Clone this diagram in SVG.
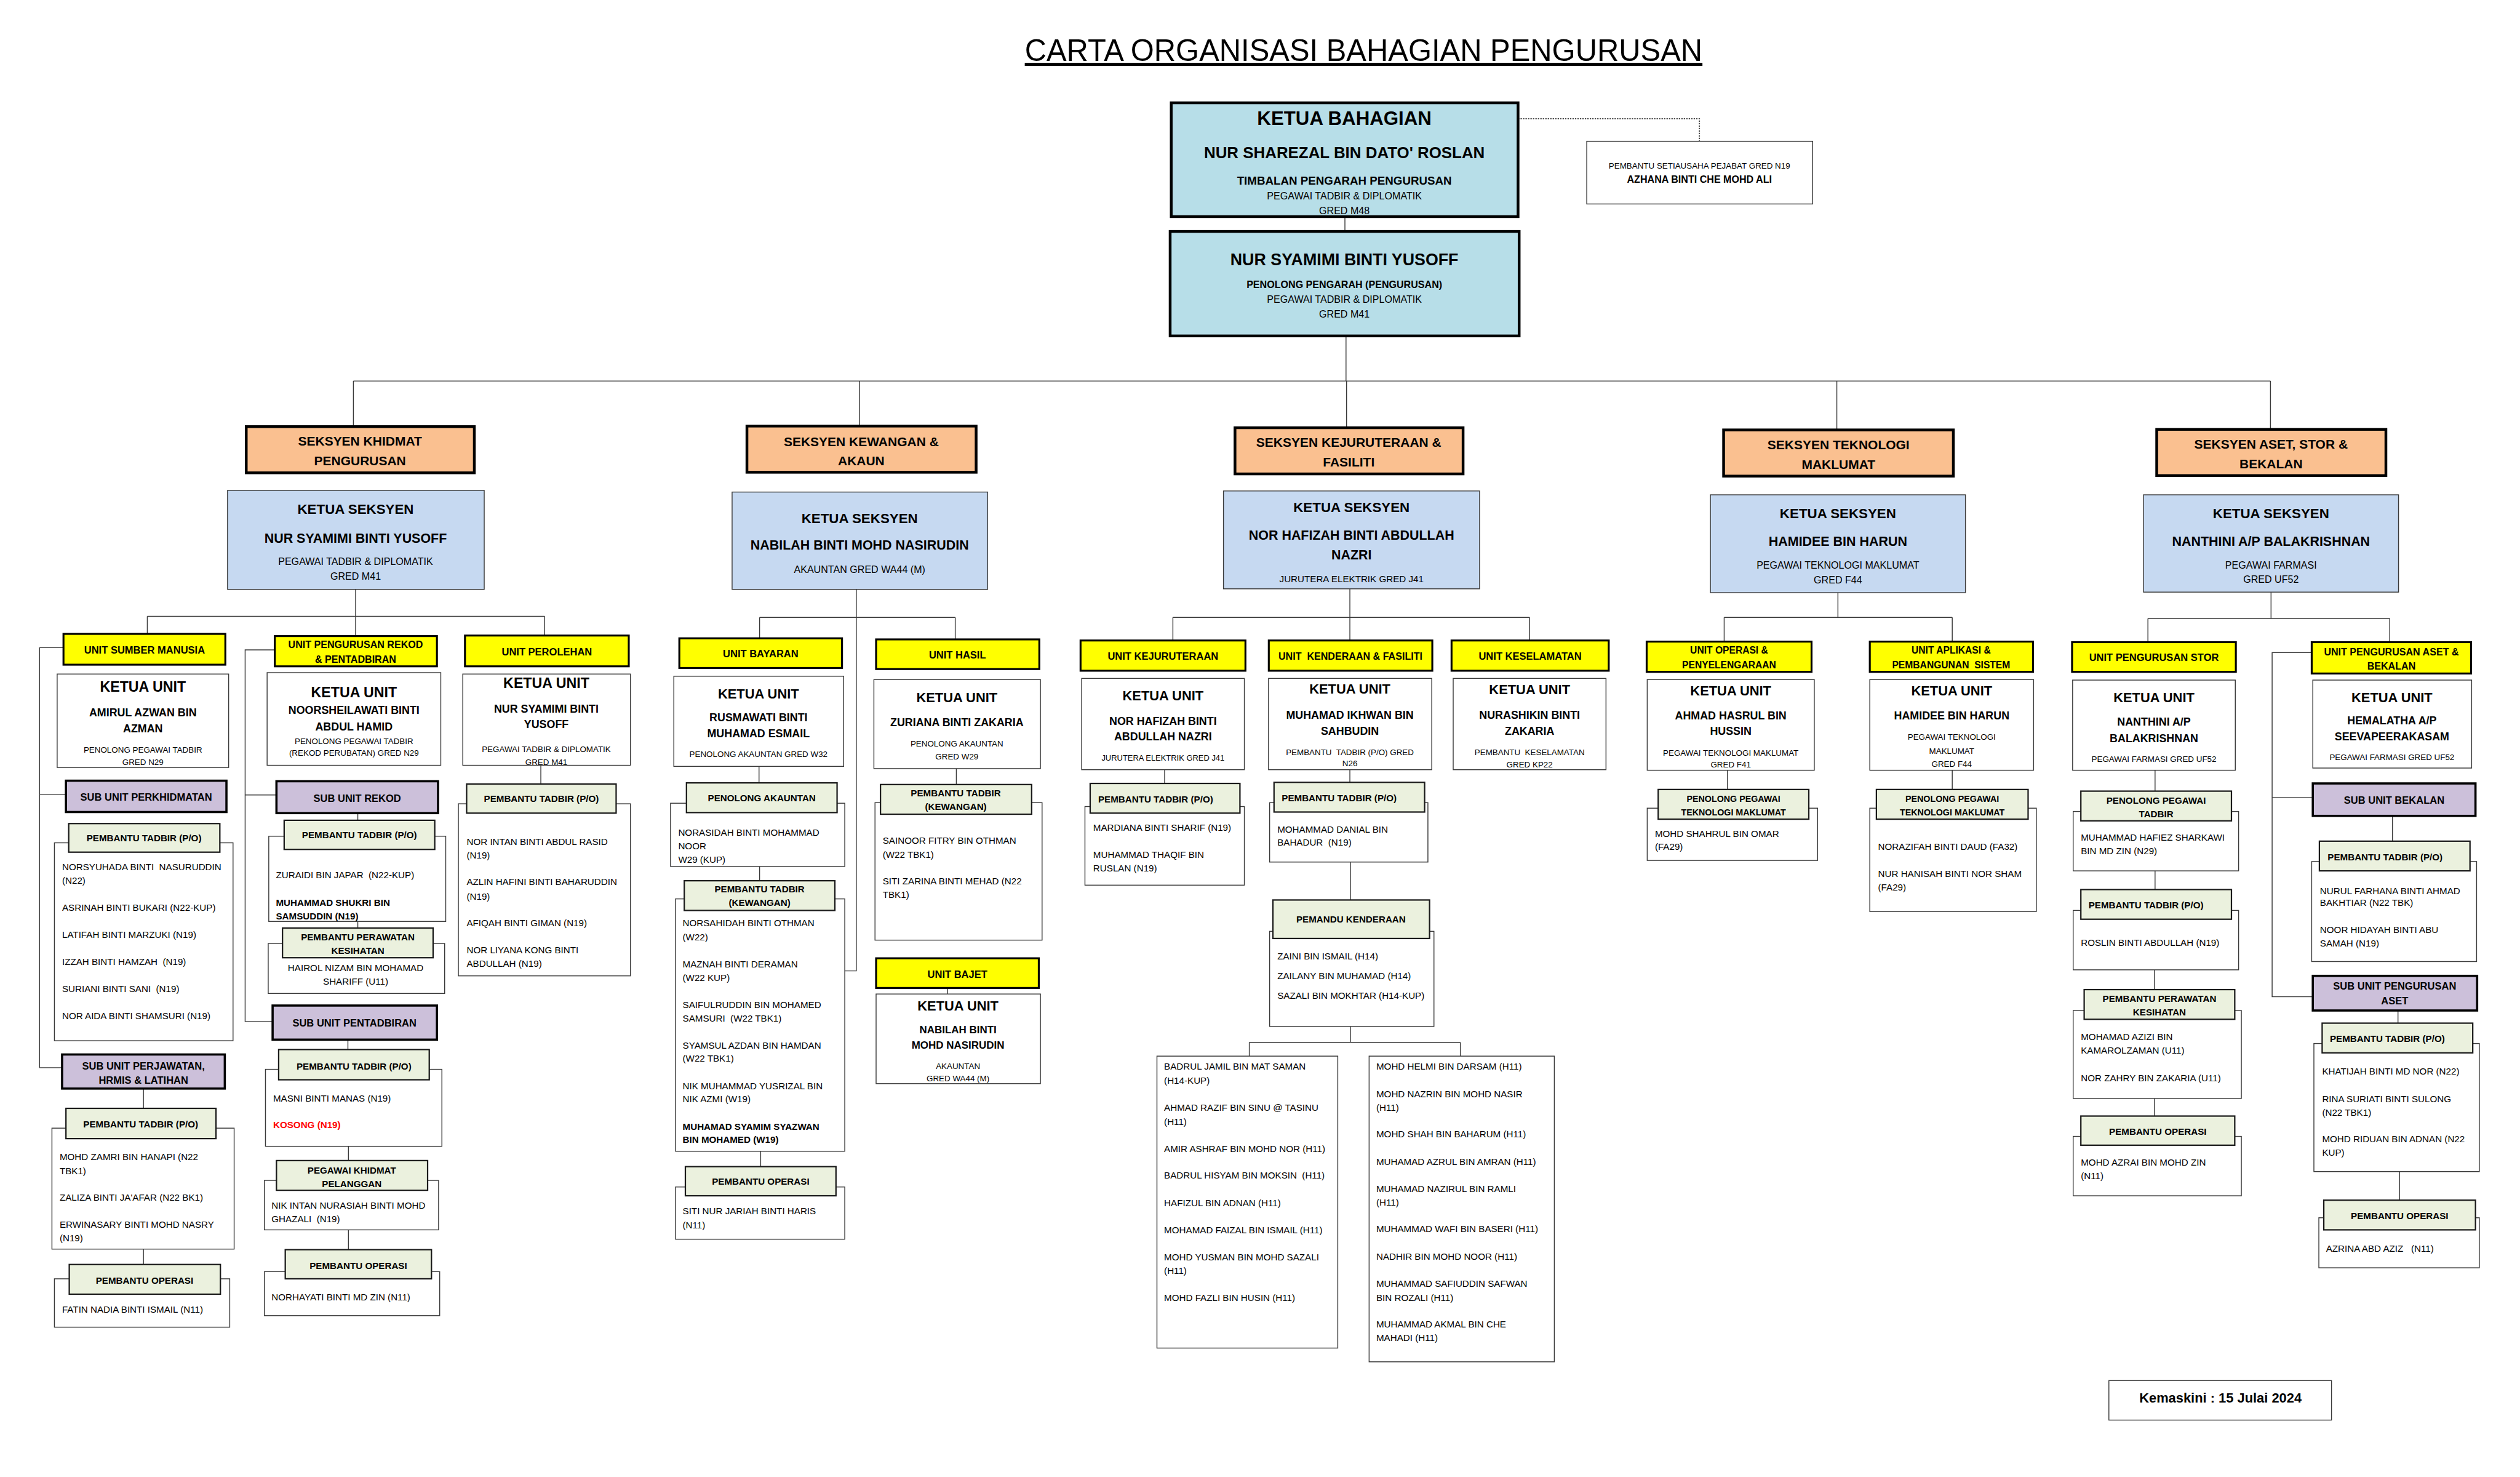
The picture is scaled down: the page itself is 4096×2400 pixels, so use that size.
<svg xmlns="http://www.w3.org/2000/svg" width="4096" height="2400" viewBox="0 0 4096 2400">
<style>
text{font-family:"Liberation Sans",Arial,sans-serif;fill:#000}
.b{font-weight:700}
.m{text-anchor:middle}
.f15{font-size:15px}
.f16{font-size:16px}
.f17{font-size:17px}
.f18{font-size:18px}
.f185{font-size:18.5px}
.f20{font-size:20px}
.f23{font-size:23.5px}
.f24{font-size:24px}
.f245{font-size:24.5px}
.f25{font-size:25px}
.top{fill:#b7dee8;stroke:#000;stroke-width:5}
.sec{fill:#fac090;stroke:#000;stroke-width:5}
.ks{fill:#c6d9f1;stroke:#3a3a3a;stroke-width:1.6}
.un{fill:#ffff00;stroke:#000;stroke-width:3.5}
.sub{fill:#ccc0da;stroke:#000;stroke-width:4}
.hd{fill:#ebf1de;stroke:#1a1a1a;stroke-width:2.5}
.w{fill:#fff;stroke:#3a3a3a;stroke-width:1.6}
.cn{fill:none;stroke:#3a3a3a;stroke-width:1.6}
.dt{fill:none;stroke:#444;stroke-width:2;stroke-dasharray:2.5 2}
.red{fill:#ff0000}
</style>
<rect width="4096" height="2400" fill="#fff"/>
<g transform="scale(0.89335)">

<text class="m" x="2481" y="111" font-size="55" textLength="1233" lengthAdjust="spacingAndGlyphs" text-decoration="underline">CARTA ORGANISASI BAHAGIAN PENGURUSAN</text>

<g id="connectors">
<path class="cn" d="M2447 394V421M2449 611V693M643 693H4131M643 693V776M1564 693V775M2450 693V778M3342 693V782M4131 693V781"/>
<path class="dt" d="M2762 216H3092V257"/>
<!-- section 1 -->
<path class="cn" d="M647 1072V1157M268 1121H991M268 1121V1153M991 1121V1156"/>
<path class="cn" d="M115 1178H72V1942H113M72 1445H120M500 1182H446V1858H496M446 1446H503"/>
<path class="cn" d="M651 1479V1492M651 1676V1688M633 1891V1909M634 2085V2111M634 2237V2273M261 1980V2016M261 2272V2300M984 1392V1426"/>
<!-- section 2 -->
<path class="cn" d="M1558 1072V1766H1538M1382 1123H1738M1382 1123V1162M1738 1123V1163M1381 1394V1424M1382 1576V1602M1384 2094V2122M1740 1398V1427M1724 1797V1808"/>
<!-- section 3 -->
<path class="cn" d="M2456 1071V1165M2134 1123H2783M2134 1123V1165M2783 1123V1165M2119 1400V1425M2456 1400V1423M2457 1568V1637M2457 1867V1896M2273 1896H2657M2273 1896V1921M2657 1896V1921"/>
<!-- section 4 -->
<path class="cn" d="M3344 1078V1123M3137 1123H3552M3137 1123V1167M3552 1123V1167M3143 1401V1436M3552 1401V1436"/>
<!-- section 5 -->
<path class="cn" d="M4132 1077V1125M3908 1125H4348M3908 1125V1168M4348 1125V1168M4206 1187H4134V1813H4209M4134 1451H4208M4353 1484V1530M4363 1838V1861M4366 2131V2183M3921 1401V1439M3921 1584V1618M3920 1764V1800M3920 1998V2030"/>
</g>

<!-- top -->
<g id="ketua-bahagian">
<rect class="top" x="2131" y="187" width="631" height="207"/>
<text class="m b" x="2446" y="227" font-size="35">KETUA BAHAGIAN</text>
<text class="m b" x="2446" y="288" font-size="29">NUR SHAREZAL BIN DATO' ROSLAN</text>
<text class="m b" x="2446" y="336" font-size="21">TIMBALAN PENGARAH PENGURUSAN</text>
<text class="m f18" x="2446" y="363">PEGAWAI TADBIR &amp; DIPLOMATIK</text>
<text class="m f18" x="2446" y="390">GRED M48</text>
</g>
<g id="penolong-pengarah">
<rect class="top" x="2129" y="421" width="635" height="190"/>
<text class="m b" x="2446" y="483" font-size="30">NUR SYAMIMI BINTI YUSOFF</text>
<text class="m b f18" x="2446" y="524">PENOLONG PENGARAH (PENGURUSAN)</text>
<text class="m f18" x="2446" y="551">PEGAWAI TADBIR &amp; DIPLOMATIK</text>
<text class="m f18" x="2446" y="578">GRED M41</text>
</g>
<g id="setiausaha">
<rect class="w" x="2887" y="257" width="411" height="114"/>
<text class="m f15" x="3092" y="307">PEMBANTU SETIAUSAHA PEJABAT GRED N19</text>
<text class="m b f18" x="3092" y="333">AZHANA BINTI CHE MOHD ALI</text>
</g>

<!-- sections -->
<g id="seksyen-khidmat" class="m b f23">
<rect class="sec" x="448" y="776" width="415" height="84"/>
<text x="655" y="810">SEKSYEN KHIDMAT</text><text x="655" y="846">PENGURUSAN</text>
</g>
<g id="seksyen-kewangan" class="m b f23">
<rect class="sec" x="1359" y="775" width="417" height="84"/>
<text x="1567" y="811">SEKSYEN KEWANGAN &amp;</text><text x="1567" y="846">AKAUN</text>
</g>
<g id="seksyen-kejuruteraan" class="m b f23">
<rect class="sec" x="2247" y="778" width="415" height="84"/>
<text x="2454" y="813">SEKSYEN KEJURUTERAAN &amp;</text><text x="2454" y="849">FASILITI</text>
</g>
<g id="seksyen-teknologi" class="m b f23">
<rect class="sec" x="3136" y="782" width="418" height="84"/>
<text x="3345" y="817">SEKSYEN TEKNOLOGI</text><text x="3345" y="853">MAKLUMAT</text>
</g>
<g id="seksyen-aset" class="m b f23">
<rect class="sec" x="3924" y="781" width="417" height="84"/>
<text x="4132" y="816">SEKSYEN ASET, STOR &amp;</text><text x="4132" y="852">BEKALAN</text>
</g>

<!-- ketua seksyen -->
<g id="ks1" class="m">
<rect class="ks" x="414" y="892" width="467" height="180"/>
<text class="b f25" x="647" y="935">KETUA SEKSYEN</text>
<text class="b f24" x="647" y="987">NUR SYAMIMI BINTI YUSOFF</text>
<text class="f18" x="647" y="1028">PEGAWAI TADBIR &amp; DIPLOMATIK</text>
<text class="f18" x="647" y="1055">GRED M41</text>
</g>
<g id="ks2" class="m">
<rect class="ks" x="1332" y="895" width="465" height="177"/>
<text class="b f25" x="1564" y="951">KETUA SEKSYEN</text>
<text class="b f24" x="1564" y="1000">NABILAH BINTI MOHD NASIRUDIN</text>
<text class="f18" x="1564" y="1042">AKAUNTAN GRED WA44 (M)</text>
</g>
<g id="ks3" class="m">
<rect class="ks" x="2226" y="893" width="466" height="178"/>
<text class="b f25" x="2459" y="931">KETUA SEKSYEN</text>
<text class="b f24" x="2459" y="982">NOR HAFIZAH BINTI ABDULLAH</text>
<text class="b f24" x="2459" y="1018">NAZRI</text>
<text class="f17" x="2459" y="1059">JURUTERA ELEKTRIK GRED J41</text>
</g>
<g id="ks4" class="m">
<rect class="ks" x="3112" y="900" width="464" height="178"/>
<text class="b f25" x="3344" y="942">KETUA SEKSYEN</text>
<text class="b f24" x="3344" y="993">HAMIDEE BIN HARUN</text>
<text class="f18" x="3344" y="1034">PEGAWAI TEKNOLOGI MAKLUMAT</text>
<text class="f18" x="3344" y="1061">GRED F44</text>
</g>
<g id="ks5" class="m">
<rect class="ks" x="3900" y="900" width="464" height="177"/>
<text class="b f25" x="4132" y="942">KETUA SEKSYEN</text>
<text class="b f24" x="4132" y="993">NANTHINI A/P BALAKRISHNAN</text>
<text class="f18" x="4132" y="1034">PEGAWAI FARMASI</text>
<text class="f18" x="4132" y="1060">GRED UF52</text>
</g>

<!-- ===== Section 1 ===== -->
<g id="unit-sumber-manusia" class="m b f185">
<rect class="un" x="115.5" y="1153" width="294.5" height="56"/>
<text x="263" y="1189">UNIT SUMBER MANUSIA</text>
</g>
<g id="unit-rekod" class="m b f18">
<rect class="un" x="500" y="1157" width="295" height="55"/>
<text x="647" y="1179">UNIT PENGURUSAN REKOD</text><text x="647" y="1206">&amp; PENTADBIRAN</text>
</g>
<g id="unit-perolehan" class="m b f185">
<rect class="un" x="846" y="1156" width="298" height="56"/>
<text x="995" y="1192">UNIT PEROLEHAN</text>
</g>
<g id="ku-sumber" class="m">
<rect class="w" x="104" y="1226" width="312" height="170"/>
<text class="b" font-size="26" x="260" y="1258">KETUA UNIT</text>
<text class="b f20" x="260" y="1303">AMIRUL AZWAN BIN</text>
<text class="b f20" x="260" y="1332">AZMAN</text>
<text class="f15" x="260" y="1369">PENOLONG PEGAWAI TADBIR</text>
<text class="f15" x="260" y="1391">GRED N29</text>
</g>
<g id="ku-rekod" class="m">
<rect class="w" x="486" y="1223.5" width="316" height="168.5"/>
<text class="b" font-size="26" x="644" y="1268">KETUA UNIT</text>
<text class="b f20" x="644" y="1299">NOORSHEILAWATI BINTI</text>
<text class="b f20" x="644" y="1329">ABDUL HAMID</text>
<text class="f15" x="644" y="1353">PENOLONG PEGAWAI TADBIR</text>
<text class="f15" x="644" y="1375">(REKOD PERUBATAN) GRED N29</text>
</g>
<g id="ku-perolehan" class="m">
<rect class="w" x="842" y="1226" width="305" height="166"/>
<text class="b" font-size="26" x="994" y="1251">KETUA UNIT</text>
<text class="b f20" x="994" y="1296">NUR SYAMIMI BINTI</text>
<text class="b f20" x="994" y="1324">YUSOFF</text>
<text class="f15" x="994" y="1368">PEGAWAI TADBIR &amp; DIPLOMATIK</text>
<text class="f15" x="994" y="1391">GRED M41</text>
</g>
<g id="sub-perkhidmatan" class="m b f185">
<rect class="sub" x="120" y="1420" width="292" height="57"/>
<text x="266" y="1456">SUB UNIT PERKHIDMATAN</text>
</g>
<g id="sub-rekod" class="m b f185">
<rect class="sub" x="503" y="1421" width="294" height="58"/>
<text x="650" y="1458">SUB UNIT REKOD</text>
</g>
<g id="s1-pt-perkhidmatan" class="f17">
<rect class="w" x="99" y="1533" width="325" height="360"/>
<rect class="hd" x="125" y="1498" width="275" height="52"/>
<text class="m b" x="262" y="1530">PEMBANTU TADBIR (P/O)</text>
<text x="113" y="1583" xml:space="preserve">NORSYUHADA BINTI  NASURUDDIN</text>
<text x="113" y="1607">(N22)</text>
<text x="113" y="1657">ASRINAH BINTI BUKARI (N22-KUP)</text>
<text x="113" y="1706">LATIFAH BINTI MARZUKI (N19)</text>
<text x="113" y="1755" xml:space="preserve">IZZAH BINTI HAMZAH  (N19)</text>
<text x="113" y="1804" xml:space="preserve">SURIANI BINTI SANI  (N19)</text>
<text x="113" y="1854">NOR AIDA BINTI SHAMSURI (N19)</text>
</g>
<g id="sub-perjawatan" class="m b f185">
<rect class="sub" x="113" y="1918" width="296" height="62"/>
<text x="261" y="1945">SUB UNIT PERJAWATAN,</text><text x="261" y="1971">HRMIS &amp; LATIHAN</text>
</g>
<g id="s1-pt-perjawatan" class="f17">
<rect class="w" x="94.5" y="2052" width="331.5" height="220"/>
<rect class="hd" x="120" y="2016" width="273" height="55"/>
<text class="m b" x="256" y="2051">PEMBANTU TADBIR (P/O)</text>
<text x="108.5" y="2110">MOHD ZAMRI BIN HANAPI (N22</text>
<text x="108.5" y="2136">TBK1)</text>
<text x="108.5" y="2184">ZALIZA BINTI JA'AFAR (N22 BK1)</text>
<text x="108.5" y="2233">ERWINASARY BINTI MOHD NASRY</text>
<text x="108.5" y="2258">(N19)</text>
</g>
<g id="s1-po-perjawatan" class="f17">
<rect class="w" x="99" y="2326" width="319" height="88"/>
<rect class="hd" x="126" y="2300" width="275" height="54"/>
<text class="m b" x="263" y="2335">PEMBANTU OPERASI</text>
<text x="113" y="2388">FATIN NADIA BINTI ISMAIL (N11)</text>
</g>
<g id="s1-pt-rekod" class="f17">
<rect class="w" x="489" y="1521" width="322" height="155"/>
<rect class="hd" x="517" y="1492" width="274" height="53"/>
<text class="m b" x="654" y="1525">PEMBANTU TADBIR (P/O)</text>
<text x="502" y="1597" xml:space="preserve">ZURAIDI BIN JAPAR  (N22-KUP)</text>
<text class="b" x="502" y="1648">MUHAMMAD SHUKRI BIN</text>
<text class="b" x="502" y="1672">SAMSUDDIN (N19)</text>
</g>
<g id="s1-ppk-rekod" class="f17">
<rect class="w" x="488" y="1716" width="321" height="91"/>
<rect class="hd" x="514" y="1688" width="274" height="54"/>
<text class="m b" x="651" y="1710">PEMBANTU PERAWATAN</text>
<text class="m b" x="651" y="1735">KESIHATAN</text>
<text class="m" x="647" y="1766">HAIROL NIZAM BIN MOHAMAD</text>
<text class="m" x="647" y="1791">SHARIFF (U11)</text>
</g>
<g id="sub-pentadbiran" class="m b f185">
<rect class="sub" x="496" y="1829" width="299" height="62"/>
<text x="645" y="1867">SUB UNIT PENTADBIRAN</text>
</g>
<g id="s1-pt-pentadbiran" class="f17">
<rect class="w" x="483" y="1945" width="321" height="140"/>
<rect class="hd" x="507" y="1909" width="274" height="55"/>
<text class="m b" x="644" y="1945">PEMBANTU TADBIR (P/O)</text>
<text x="497" y="2004">MASNI BINTI MANAS (N19)</text>
<text class="b red" x="497" y="2052">KOSONG (N19)</text>
</g>
<g id="s1-pkp-pentadbiran" class="f17">
<rect class="w" x="481" y="2147" width="317" height="90"/>
<rect class="hd" x="503" y="2111" width="275" height="54"/>
<text class="m b" x="640" y="2135">PEGAWAI KHIDMAT</text>
<text class="m b" x="640" y="2159">PELANGGAN</text>
<text x="494" y="2198">NIK INTAN NURASIAH BINTI MOHD</text>
<text x="494" y="2223" xml:space="preserve">GHAZALI  (N19)</text>
</g>
<g id="s1-po-pentadbiran" class="f17">
<rect class="w" x="481" y="2313" width="319" height="80"/>
<rect class="hd" x="519" y="2273" width="266" height="53"/>
<text class="m b" x="652" y="2308">PEMBANTU OPERASI</text>
<text x="494" y="2365">NORHAYATI BINTI MD ZIN (N11)</text>
</g>
<g id="s1-pt-perolehan" class="f17">
<rect class="w" x="834" y="1462" width="313" height="313"/>
<rect class="hd" x="849" y="1426" width="272" height="53"/>
<text class="m b" x="985" y="1459">PEMBANTU TADBIR (P/O)</text>
<text x="849" y="1537">NOR INTAN BINTI ABDUL RASID</text>
<text x="849" y="1561">(N19)</text>
<text x="849" y="1610">AZLIN HAFINI BINTI BAHARUDDIN</text>
<text x="849" y="1636">(N19)</text>
<text x="849" y="1685">AFIQAH BINTI GIMAN (N19)</text>
<text x="849" y="1734">NOR LIYANA KONG BINTI</text>
<text x="849" y="1759">ABDULLAH (N19)</text>
</g>

<!-- ===== Section 2 ===== -->
<g id="unit-bayaran" class="m b f185">
<rect class="un" x="1236" y="1161" width="296" height="54"/>
<text x="1384" y="1196">UNIT BAYARAN</text>
</g>
<g id="unit-hasil" class="m b f185">
<rect class="un" x="1594" y="1163" width="297" height="54"/>
<text x="1742" y="1198">UNIT HASIL</text>
</g>
<g id="ku-bayaran" class="m">
<rect class="w" x="1226" y="1230" width="309" height="164"/>
<text class="b f245" x="1380" y="1271">KETUA UNIT</text>
<text class="b f20" x="1380" y="1312">RUSMAWATI BINTI</text>
<text class="b f20" x="1380" y="1341">MUHAMAD ESMAIL</text>
<text class="f15" x="1380" y="1377">PENOLONG AKAUNTAN GRED W32</text>
</g>
<g id="ku-hasil" class="m">
<rect class="w" x="1590" y="1236" width="303" height="162"/>
<text class="b f245" x="1741" y="1277">KETUA UNIT</text>
<text class="b f20" x="1741" y="1321">ZURIANA BINTI ZAKARIA</text>
<text class="f15" x="1741" y="1358">PENOLONG AKAUNTAN</text>
<text class="f15" x="1741" y="1381">GRED W29</text>
</g>
<g id="s2-pa-bayaran" class="f17">
<rect class="w" x="1220" y="1461" width="317" height="115"/>
<rect class="hd" x="1249" y="1424" width="274" height="54"/>
<text class="m b" x="1386" y="1457">PENOLONG AKAUNTAN</text>
<text x="1234" y="1520">NORASIDAH BINTI MOHAMMAD</text>
<text x="1234" y="1545">NOOR</text>
<text x="1234" y="1569">W29 (KUP)</text>
</g>
<g id="s2-ptk-bayaran" class="f17">
<rect class="w" x="1229" y="1635" width="308" height="459"/>
<rect class="hd" x="1245" y="1602" width="274" height="54"/>
<text class="m b" x="1382" y="1623">PEMBANTU TADBIR</text>
<text class="m b" x="1382" y="1648">(KEWANGAN)</text>
<text x="1242" y="1685">NORSAHIDAH BINTI OTHMAN</text>
<text x="1242" y="1710">(W22)</text>
<text x="1242" y="1760">MAZNAH BINTI DERAMAN</text>
<text x="1242" y="1784">(W22 KUP)</text>
<text x="1242" y="1833">SAIFULRUDDIN BIN MOHAMED</text>
<text x="1242" y="1858" xml:space="preserve">SAMSURI  (W22 TBK1)</text>
<text x="1242" y="1907">SYAMSUL AZDAN BIN HAMDAN</text>
<text x="1242" y="1931">(W22 TBK1)</text>
<text x="1242" y="1981">NIK MUHAMMAD YUSRIZAL BIN</text>
<text x="1242" y="2005">NIK AZMI (W19)</text>
<text class="b" x="1242" y="2055">MUHAMAD SYAMIM SYAZWAN</text>
<text class="b" x="1242" y="2079">BIN MOHAMED (W19)</text>
</g>
<g id="s2-po-bayaran" class="f17">
<rect class="w" x="1229" y="2159" width="308" height="95"/>
<rect class="hd" x="1247" y="2122" width="274" height="53"/>
<text class="m b" x="1384" y="2155">PEMBANTU OPERASI</text>
<text x="1242" y="2208">SITI NUR JARIAH BINTI HARIS</text>
<text x="1242" y="2234">(N11)</text>
</g>
<g id="s2-ptk-hasil" class="f17">
<rect class="w" x="1592" y="1460" width="304" height="250"/>
<rect class="hd" x="1602" y="1427" width="275" height="54"/>
<text class="m b" x="1739" y="1448">PEMBANTU TADBIR</text>
<text class="m b" x="1739" y="1473">(KEWANGAN)</text>
<text x="1606" y="1535">SAINOOR FITRY BIN OTHMAN</text>
<text x="1606" y="1560">(W22 TBK1)</text>
<text x="1606" y="1608">SITI ZARINA BINTI MEHAD (N22</text>
<text x="1606" y="1633">TBK1)</text>
</g>
<g id="unit-bajet" class="m b f185">
<rect class="un" x="1594" y="1743" width="296" height="54"/>
<text x="1742" y="1779">UNIT BAJET</text>
</g>
<g id="ku-bajet" class="m">
<rect class="w" x="1594" y="1808" width="299" height="163"/>
<text class="b f245" x="1743" y="1838">KETUA UNIT</text>
<text class="b" font-size="19" x="1743" y="1880">NABILAH BINTI</text>
<text class="b" font-size="19" x="1743" y="1907">MOHD NASIRUDIN</text>
<text class="f15" x="1743" y="1944">AKAUNTAN</text>
<text class="f15" x="1743" y="1967">GRED WA44 (M)</text>
</g>

<!-- ===== Section 3 ===== -->
<g id="unit-kejuruteraan" class="m b f185">
<rect class="un" x="1966" y="1165" width="300" height="55"/>
<text x="2116" y="1200">UNIT KEJURUTERAAN</text>
</g>
<g id="unit-kenderaan" class="m b f18">
<rect class="un" x="2308.5" y="1165" width="297.5" height="55"/>
<text x="2457" y="1200" xml:space="preserve">UNIT  KENDERAAN &amp; FASILITI</text>
</g>
<g id="unit-keselamatan" class="m b f185">
<rect class="un" x="2641" y="1165" width="286" height="55"/>
<text x="2784" y="1200">UNIT KESELAMATAN</text>
</g>
<g id="ku-kejuruteraan" class="m">
<rect class="w" x="1968" y="1234" width="296" height="166"/>
<text class="b f245" x="2116" y="1274">KETUA UNIT</text>
<text class="b f20" x="2116" y="1319">NOR HAFIZAH BINTI</text>
<text class="b f20" x="2116" y="1347">ABDULLAH NAZRI</text>
<text x="2116" y="1384" font-size="14.5">JURUTERA ELEKTRIK GRED J41</text>
</g>
<g id="ku-kenderaan" class="m">
<rect class="w" x="2308" y="1234" width="297" height="166"/>
<text class="b f245" x="2456" y="1262">KETUA UNIT</text>
<text class="b f20" x="2456" y="1307">MUHAMAD IKHWAN BIN</text>
<text class="b f20" x="2456" y="1337">SAHBUDIN</text>
<text class="f15" x="2456" y="1373" xml:space="preserve">PEMBANTU  TADBIR (P/O) GRED</text>
<text class="f15" x="2456" y="1394">N26</text>
</g>
<g id="ku-keselamatan" class="m">
<rect class="w" x="2644" y="1234" width="278" height="166"/>
<text class="b f245" x="2783" y="1263">KETUA UNIT</text>
<text class="b f20" x="2783" y="1307">NURASHIKIN BINTI</text>
<text class="b f20" x="2783" y="1336">ZAKARIA</text>
<text class="f15" x="2783" y="1374" xml:space="preserve">PEMBANTU  KESELAMATAN</text>
<text class="f15" x="2783" y="1396">GRED KP22</text>
</g>
<g id="s3-pt-kejuruteraan" class="f17">
<rect class="w" x="1974" y="1467" width="290" height="143"/>
<rect class="hd" x="1983.5" y="1425" width="272.5" height="54"/>
<text class="b" x="1998" y="1460">PEMBANTU TADBIR (P/O)</text>
<text x="1989" y="1511">MARDIANA BINTI SHARIF (N19)</text>
<text x="1989" y="1560">MUHAMMAD THAQIF BIN</text>
<text x="1989" y="1585">RUSLAN (N19)</text>
</g>
<g id="s3-pt-kenderaan" class="f17">
<rect class="w" x="2310" y="1460" width="288" height="108"/>
<rect class="hd" x="2318" y="1423" width="274" height="54"/>
<text class="b" x="2332" y="1457">PEMBANTU TADBIR (P/O)</text>
<text x="2324" y="1514">MOHAMMAD DANIAL BIN</text>
<text x="2324" y="1538" xml:space="preserve">BAHADUR  (N19)</text>
</g>
<g id="s3-pemandu" class="f17">
<rect class="w" x="2310" y="1694" width="299" height="173"/>
<rect class="hd" x="2316" y="1637" width="285" height="70" stroke-width="3.5"/>
<text class="m b" x="2458" y="1678">PEMANDU KENDERAAN</text>
<text x="2324" y="1745">ZAINI BIN ISMAIL (H14)</text>
<text x="2324" y="1781">ZAILANY BIN MUHAMAD (H14)</text>
<text x="2324" y="1817">SAZALI BIN MOKHTAR (H14-KUP)</text>
</g>
<g id="s3-pemandu-list1" class="f17">
<rect class="w" x="2105" y="1921" width="329" height="531"/>
<text x="2118" y="1946">BADRUL JAMIL BIN MAT SAMAN</text>
<text x="2118" y="1971">(H14-KUP)</text>
<text x="2118" y="2021">AHMAD RAZIF BIN SINU @ TASINU</text>
<text x="2118" y="2046">(H11)</text>
<text x="2118" y="2095">AMIR ASHRAF BIN MOHD NOR (H11)</text>
<text x="2118" y="2144" xml:space="preserve">BADRUL HISYAM BIN MOKSIN  (H11)</text>
<text x="2118" y="2194">HAFIZUL BIN ADNAN (H11)</text>
<text x="2118" y="2243">MOHAMAD FAIZAL BIN ISMAIL (H11)</text>
<text x="2118" y="2292">MOHD YUSMAN BIN MOHD SAZALI</text>
<text x="2118" y="2317">(H11)</text>
<text x="2118" y="2366">MOHD FAZLI BIN HUSIN (H11)</text>
</g>
<g id="s3-pemandu-list2" class="f17">
<rect class="w" x="2491" y="1921" width="337" height="556"/>
<text x="2504" y="1946">MOHD HELMI BIN DARSAM (H11)</text>
<text x="2504" y="1996">MOHD NAZRIN BIN MOHD NASIR</text>
<text x="2504" y="2021">(H11)</text>
<text x="2504" y="2069">MOHD SHAH BIN BAHARUM (H11)</text>
<text x="2504" y="2119">MUHAMAD AZRUL BIN AMRAN (H11)</text>
<text x="2504" y="2168">MUHAMAD NAZIRUL BIN RAMLI</text>
<text x="2504" y="2193">(H11)</text>
<text x="2504" y="2241">MUHAMMAD WAFI BIN BASERI (H11)</text>
<text x="2504" y="2291">NADHIR BIN MOHD NOOR (H11)</text>
<text x="2504" y="2341">MUHAMMAD SAFIUDDIN SAFWAN</text>
<text x="2504" y="2366">BIN ROZALI (H11)</text>
<text x="2504" y="2414">MUHAMMAD AKMAL BIN CHE</text>
<text x="2504" y="2439">MAHADI (H11)</text>
</g>

<!-- ===== Section 4 ===== -->
<g id="unit-operasi" class="m b" font-size="17.5">
<rect class="un" x="2996" y="1167" width="300" height="55"/>
<text x="3146" y="1189">UNIT OPERASI &amp;</text><text x="3146" y="1216">PENYELENGARAAN</text>
</g>
<g id="unit-aplikasi" class="m b" font-size="17.5">
<rect class="un" x="3402" y="1167" width="297" height="55"/>
<text x="3550" y="1189">UNIT APLIKASI &amp;</text><text x="3550" y="1216" xml:space="preserve">PEMBANGUNAN  SISTEM</text>
</g>
<g id="ku-operasi" class="m">
<rect class="w" x="2997" y="1236" width="304" height="165"/>
<text class="b f245" x="3149" y="1265">KETUA UNIT</text>
<text class="b f20" x="3149" y="1308">AHMAD HASRUL BIN</text>
<text class="b f20" x="3149" y="1337">HUSSIN</text>
<text class="f15" x="3149" y="1375">PEGAWAI TEKNOLOGI MAKLUMAT</text>
<text class="f15" x="3149" y="1396">GRED F41</text>
</g>
<g id="ku-aplikasi" class="m">
<rect class="w" x="3402" y="1236" width="298" height="165"/>
<text class="b f245" x="3551" y="1265">KETUA UNIT</text>
<text class="b f20" x="3551" y="1309">HAMIDEE BIN HARUN</text>
<text class="f15" x="3551" y="1346">PEGAWAI TEKNOLOGI</text>
<text class="f15" x="3551" y="1371">MAKLUMAT</text>
<text class="f15" x="3551" y="1395">GRED F44</text>
</g>
<g id="s4-pptm-operasi" class="f17">
<rect class="w" x="2997" y="1470" width="310" height="95"/>
<rect class="hd" x="3017" y="1436" width="274" height="54"/>
<text class="m b f16" x="3154" y="1459">PENOLONG PEGAWAI</text>
<text class="m b f16" x="3154" y="1483">TEKNOLOGI MAKLUMAT</text>
<text x="3011" y="1522">MOHD SHAHRUL BIN OMAR</text>
<text x="3011" y="1546">(FA29)</text>
</g>
<g id="s4-pptm-aplikasi" class="f17">
<rect class="w" x="3402" y="1470" width="303" height="188"/>
<rect class="hd" x="3414" y="1436" width="276" height="54"/>
<text class="m b f16" x="3552" y="1459">PENOLONG PEGAWAI</text>
<text class="m b f16" x="3552" y="1483">TEKNOLOGI MAKLUMAT</text>
<text x="3417" y="1546">NORAZIFAH BINTI DAUD (FA32)</text>
<text x="3417" y="1595">NUR HANISAH BINTI NOR SHAM</text>
<text x="3417" y="1620">(FA29)</text>
</g>

<!-- ===== Section 5 ===== -->
<g id="unit-stor" class="m b f185">
<rect class="un" x="3770" y="1168" width="298" height="54"/>
<text x="3919" y="1202">UNIT PENGURUSAN STOR</text>
</g>
<g id="unit-aset" class="m b f18">
<rect class="un" x="4206" y="1168" width="290" height="57"/>
<text x="4351" y="1192">UNIT PENGURUSAN ASET &amp;</text><text x="4351" y="1218">BEKALAN</text>
</g>
<g id="ku-stor" class="m">
<rect class="w" x="3771" y="1237" width="296" height="164"/>
<text class="b f245" x="3919" y="1277">KETUA UNIT</text>
<text class="b f20" x="3919" y="1320">NANTHINI A/P</text>
<text class="b f20" x="3919" y="1350">BALAKRISHNAN</text>
<text class="f15" x="3919" y="1386">PEGAWAI FARMASI GRED UF52</text>
</g>
<g id="ku-aset" class="m">
<rect class="w" x="4208" y="1237" width="289" height="160"/>
<text class="b f245" x="4352" y="1277">KETUA UNIT</text>
<text class="b f20" x="4352" y="1318">HEMALATHA A/P</text>
<text class="b f20" x="4352" y="1347">SEEVAPEERAKASAM</text>
<text class="f15" x="4352" y="1382">PEGAWAI FARMASI GRED UF52</text>
</g>
<g id="sub-bekalan" class="m b f185">
<rect class="sub" x="4208" y="1425" width="296" height="59"/>
<text x="4356" y="1462">SUB UNIT BEKALAN</text>
</g>
<g id="s5-pt-bekalan" class="f17">
<rect class="w" x="4206" y="1567" width="300" height="182"/>
<rect class="hd" x="4220" y="1530" width="274" height="54"/>
<text class="b" x="4235" y="1565">PEMBANTU TADBIR (P/O)</text>
<text x="4221" y="1626">NURUL FARHANA BINTI AHMAD</text>
<text x="4221" y="1648">BAKHTIAR (N22 TBK)</text>
<text x="4221" y="1697">NOOR HIDAYAH BINTI ABU</text>
<text x="4221" y="1722">SAMAH (N19)</text>
</g>
<g id="sub-pengurusan-aset" class="m b f185">
<rect class="sub" x="4208" y="1775" width="299" height="63"/>
<text x="4357" y="1800">SUB UNIT PENGURUSAN</text><text x="4357" y="1827">ASET</text>
</g>
<g id="s5-pt-aset" class="f17">
<rect class="w" x="4210" y="1898" width="301" height="233"/>
<rect class="hd" x="4225" y="1861" width="274" height="54"/>
<text class="b" x="4239" y="1895">PEMBANTU TADBIR (P/O)</text>
<text x="4225" y="1954">KHATIJAH BINTI MD NOR (N22)</text>
<text x="4225" y="2005">RINA SURIATI BINTI SULONG</text>
<text x="4225" y="2029">(N22 TBK1)</text>
<text x="4225" y="2078">MOHD RIDUAN BIN ADNAN (N22</text>
<text x="4225" y="2102">KUP)</text>
</g>
<g id="s5-po-aset" class="f17">
<rect class="w" x="4219" y="2215" width="292" height="91"/>
<rect class="hd" x="4228" y="2183" width="276" height="54"/>
<text class="m b" x="4366" y="2218">PEMBANTU OPERASI</text>
<text x="4232" y="2277" xml:space="preserve">AZRINA ABD AZIZ   (N11)</text>
</g>
<g id="s5-ppt-stor" class="f17">
<rect class="w" x="3772" y="1476" width="301" height="108"/>
<rect class="hd" x="3786" y="1439" width="274" height="54"/>
<text class="m b" x="3923" y="1462">PENOLONG PEGAWAI</text>
<text class="m b" x="3923" y="1486">TADBIR</text>
<text x="3786" y="1529">MUHAMMAD HAFIEZ SHARKAWI</text>
<text x="3786" y="1554">BIN MD ZIN (N29)</text>
</g>
<g id="s5-pt-stor" class="f17">
<rect class="w" x="3772" y="1656" width="301" height="108"/>
<rect class="hd" x="3786" y="1618" width="274" height="54"/>
<text class="b" x="3800" y="1652">PEMBANTU TADBIR (P/O)</text>
<text x="3786" y="1720">ROSLIN BINTI ABDULLAH (N19)</text>
</g>
<g id="s5-ppk-stor" class="f17">
<rect class="w" x="3772" y="1838" width="306" height="160"/>
<rect class="hd" x="3792" y="1800" width="274" height="54"/>
<text class="m b" x="3929" y="1822">PEMBANTU PERAWATAN</text>
<text class="m b" x="3929" y="1847">KESIHATAN</text>
<text x="3786" y="1892">MOHAMAD AZIZI BIN</text>
<text x="3786" y="1916">KAMAROLZAMAN (U11)</text>
<text x="3786" y="1967">NOR ZAHRY BIN ZAKARIA (U11)</text>
</g>
<g id="s5-po-stor" class="f17">
<rect class="w" x="3772" y="2067" width="306" height="108"/>
<rect class="hd" x="3786" y="2030" width="280" height="53"/>
<text class="m b" x="3926" y="2064">PEMBANTU OPERASI</text>
<text x="3786" y="2120">MOHD AZRAI BIN MOHD ZIN</text>
<text x="3786" y="2145">(N11)</text>
</g>

<g id="kemaskini">
<rect class="w" x="3837" y="2511" width="405" height="72"/>
<text class="m b f245" x="4040" y="2551">Kemaskini : 15 Julai 2024</text>
</g>

</g>
</svg>
